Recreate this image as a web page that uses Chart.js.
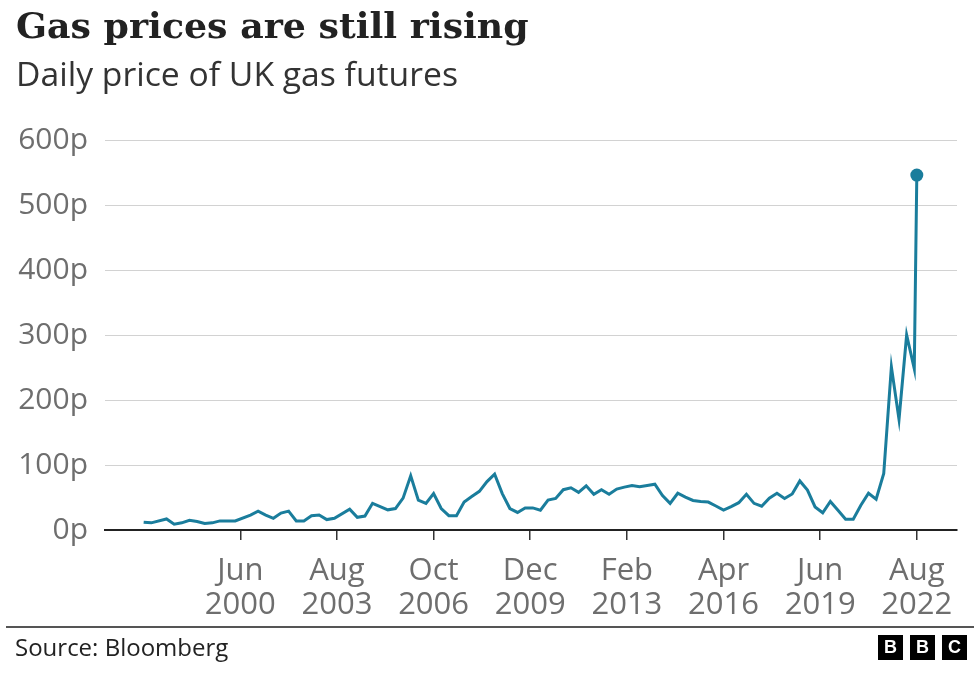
<!DOCTYPE html>
<html>
<head>
<meta charset="utf-8">
<script src="https://cdn.jsdelivr.net/npm/chart.js@4.4.0/dist/chart.umd.min.js"></script>
<style>
  html, body { margin: 0; padding: 0; background: #fff; }
  body { width: 980px; height: 673px; position: relative; overflow: hidden; }
  #title { position: absolute; left: 16px; top: 4px; font-family: "DejaVu Serif", serif; font-weight: bold; font-size: 36.3px; line-height: 44px; color: #222; white-space: nowrap; }
  #subtitle { position: absolute; left: 16px; top: 53px; font-family: "Open Sans", sans-serif; font-size: 33.7px; line-height: 40px; color: #333; white-space: nowrap; }
  #wrap { position: absolute; left: 0; top: 0; width: 980px; height: 673px; }
  #rule { position: absolute; left: 6px; right: 6px; top: 626px; height: 2px; background: #555; }
  #source { position: absolute; left: 15px; top: 631px; font-family: "Open Sans", sans-serif; font-size: 24px; line-height: 32px; color: #222; }
  #logo { position: absolute; left: 878px; top: 635px; display: flex; gap: 7px; }
  #logo span { display: block; width: 25px; height: 25px; background: #000; color: #fff; font-family: "Liberation Sans", sans-serif; font-weight: bold; font-size: 18px; line-height: 25px; text-align: center; }
</style>
</head>
<body>
<div id="wrap"><canvas id="c" width="980" height="673"></canvas></div>
<div id="title">Gas prices are still rising</div>
<div id="subtitle">Daily price of UK gas futures</div>
<div id="rule"></div>
<div id="source">Source: Bloomberg</div>
<div id="logo"><span>B</span><span>B</span><span>C</span></div>
<script>
// Dates of the plotted points (year-month) and prices in pence per therm
const dates = [
  "1997-04","1997-07","1998-01","1998-04","1998-07","1998-10","1999-01","1999-04","1999-07","1999-10",
  "2000-04","2000-10","2001-01","2001-04","2001-07","2001-10","2002-01","2002-04","2002-07","2002-10",
  "2003-01","2003-04","2003-07","2004-01","2004-04","2004-07","2004-10","2005-01","2005-04","2005-07",
  "2005-10","2006-01","2006-04","2006-07","2006-10","2007-01","2007-04","2007-07","2007-10","2008-01",
  "2008-04","2008-07","2008-10","2009-01","2009-04","2009-07","2009-10","2010-01","2010-04","2010-07",
  "2010-10","2011-01","2011-04","2011-07","2011-10","2012-01","2012-04","2012-07","2012-10","2013-01",
  "2013-04","2013-07","2013-10","2014-01","2014-04","2014-07","2014-10","2015-01","2015-04","2015-07",
  "2015-10","2016-01","2016-04","2016-07","2016-10","2017-01","2017-04","2017-07","2017-10","2018-01",
  "2018-04","2018-07","2018-10","2019-01","2019-04","2019-07","2019-10","2020-01","2020-04","2020-07",
  "2020-10","2021-01","2021-04","2021-07","2021-10","2022-01","2022-04","2022-07","2022-08"
];
const prices = [
  12, 11, 17, 9, 11, 15, 13, 10, 11, 14,
  14, 23, 29, 23, 18, 26, 29, 14, 14, 22,
  23, 16, 18, 32, 19.5, 21.5, 41, 36, 31, 33,
  49, 83.5, 46, 41, 56, 33, 22, 22, 43, 51.5,
  59.5, 74.5, 86, 56, 33, 27, 34, 34, 30.5, 46,
  48.5, 62, 65, 58, 68, 55, 62, 55, 63, 66,
  68.5, 66.5, 68.5, 70.5, 53, 41, 56.5, 50.5, 45.5, 44,
  43, 37, 30.5, 36, 42, 55, 41, 36.5, 49, 56.5,
  48.5, 55.5, 75.5, 61.5, 35.5, 26.5, 44, 30.5, 16.5, 16.5,
  38, 56.5, 47.5, 87, 251, 170, 300, 248, 546
];
// X-axis tick positions and labels
const tickDates = ["2000-06","2003-08","2006-10","2009-12","2013-02","2016-04","2019-06","2022-08"];
const tickLabels = [["Jun","2000"],["Aug","2003"],["Oct","2006"],["Dec","2009"],["Feb","2013"],["Apr","2016"],["Jun","2019"],["Aug","2022"]];
const yTicks = [0, 100, 200, 300, 400, 500, 600];

function monthIndex(s) {
  const [y, m] = s.split("-").map(Number);
  return (y - 1997) * 12 + (m - 1);
}
const points = dates.map((d, i) => ({ x: monthIndex(d), y: prices[i] }));
const tickVals = tickDates.map(monthIndex);
const lastIdx = points.length - 1;
const LINE = "#1a7d9c";

new Chart(document.getElementById("c"), {
  type: "line",
  data: {
    datasets: [{
      data: points,
      borderColor: LINE,
      backgroundColor: LINE,
      borderWidth: 3,
      tension: 0,
      pointRadius: ctx => ctx.dataIndex === lastIdx ? 6.5 : 0,
      pointHoverRadius: 0,
      pointBorderWidth: 0,
      clip: false
    }]
  },
  options: {
    responsive: false,
    animation: false,
    events: [],
    layout: { padding: { top: 140, right: 23, bottom: 50, left: 0 } },
    plugins: { legend: { display: false }, tooltip: { enabled: false }, title: { display: false } },
    scales: {
      x: {
        type: "linear",
        min: -12.2,
        max: 322.8,
        afterBuildTicks: s => { s.ticks = tickVals.map(v => ({ value: v })); },
        afterFit: s => { s.height = 93; },
        border: { display: true, color: "#222", width: 2 },
        grid: { drawOnChartArea: false, drawTicks: true, tickLength: 10, color: "#333", lineWidth: 1.5 },
        ticks: {
          autoSkip: false,
          maxRotation: 0,
          padding: 15,
          color: "#6e6e6e",
          font: { family: "'Open Sans', sans-serif", size: 31, lineHeight: 1.07 },
          callback: (v, i) => tickLabels[i]
        }
      },
      y: {
        min: 0,
        max: 600,
        afterBuildTicks: s => { s.ticks = yTicks.map(v => ({ value: v })); },
        afterFit: s => { s.width = 105; },
        border: { display: false },
        grid: { color: "#d2d2d2", lineWidth: 1, drawTicks: false },
        ticks: {
          padding: 17,
          color: "#6e6e6e",
          font: { family: "'Open Sans', sans-serif", size: 30 },
          callback: v => v + "p"
        }
      }
    }
  }
});
</script>
</body>
</html>
